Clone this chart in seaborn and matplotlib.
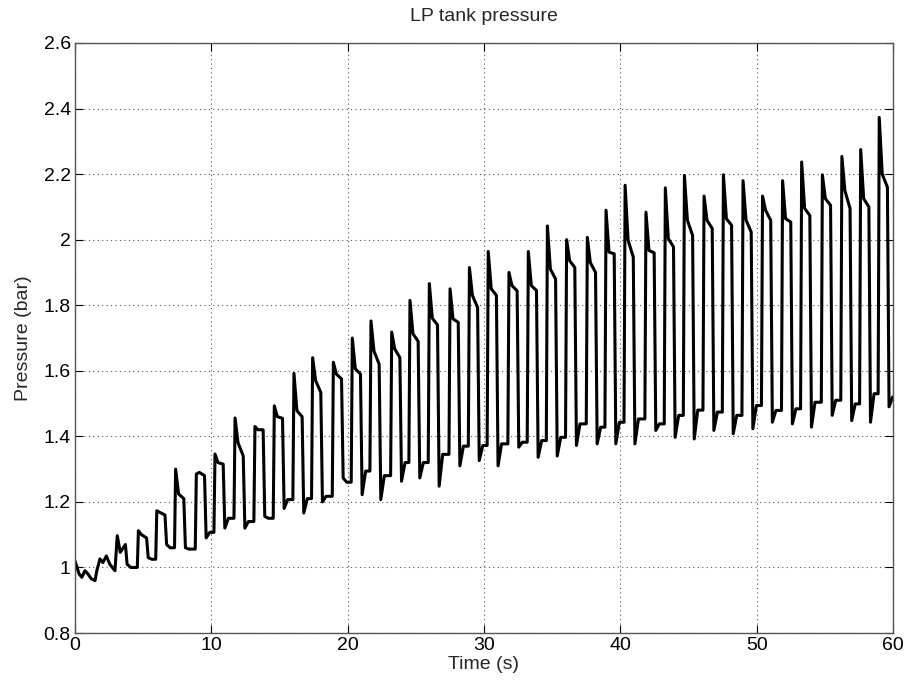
import numpy as np
import pandas as pd
import matplotlib
matplotlib.use("Agg")
import matplotlib.pyplot as plt
import seaborn as sns

# ---- data ----
# irregular start (before the regular cycling begins)
pre_t = [0.0, 0.15, 0.3, 0.5, 0.73, 0.95, 1.2, 1.47, 1.6, 1.83, 2.05, 2.3, 2.55, 2.93]
pre_v = [1.02, 1.0, 0.98, 0.97, 0.99, 0.98, 0.965, 0.96, 0.99, 1.026, 1.015, 1.035, 1.01, 0.99]

# one entry per pressure cycle
peak_t = [3.10, 4.65, 6.00, 7.38, 8.90, 10.27, 11.74, 13.20, 14.62, 16.06,
          17.43, 18.95, 20.34, 21.71, 23.23, 24.57, 25.99, 27.51, 28.93, 30.31,
          31.83, 33.25, 34.65, 36.06, 37.58, 38.95, 40.35, 41.88, 43.30, 44.70,
          46.14, 47.56, 49.00, 50.43, 51.90, 53.30, 54.82, 56.25, 57.63, 58.99]
peak_v = [1.097, 1.112, 1.173, 1.300, 1.285, 1.346, 1.456, 1.430, 1.493, 1.592,
          1.640, 1.626, 1.700, 1.752, 1.718, 1.815, 1.866, 1.850, 1.915, 1.964,
          1.900, 1.964, 2.042, 2.000, 2.007, 2.090, 2.166, 2.084, 2.158, 2.196,
          2.133, 2.198, 2.180, 2.133, 2.180, 2.237, 2.198, 2.254, 2.275, 2.373]
knee_v = [1.046, 1.100, 1.168, 1.224, 1.290, 1.320, 1.380, 1.420, 1.460, 1.478,
          1.570, 1.590, 1.606, 1.660, 1.667, 1.713, 1.760, 1.758, 1.830, 1.850,
          1.860, 1.860, 1.910, 1.936, 1.930, 1.962, 1.998, 1.967, 2.003, 2.059,
          2.059, 2.064, 2.060, 2.090, 2.064, 2.095, 2.125, 2.150, 2.125, 2.200]
high_end_v = [1.070, 1.090, 1.160, 1.210, 1.280, 1.315, 1.340, 1.420, 1.455, 1.460,
              1.534, 1.575, 1.590, 1.620, 1.640, 1.690, 1.740, 1.748, 1.793, 1.830,
              1.844, 1.845, 1.880, 1.915, 1.900, 1.957, 1.947, 1.960, 1.978, 2.013,
              2.034, 2.044, 2.023, 2.059, 2.054, 2.074, 2.105, 2.095, 2.100, 2.160]
bottom_v = [1.010, 1.030, 1.070, 1.060, 1.090, 1.120, 1.120, 1.156, 1.180, 1.166,
            1.200, 1.273, 1.222, 1.207, 1.263, 1.273, 1.248, 1.310, 1.326, 1.310,
            1.367, 1.336, 1.340, 1.372, 1.377, 1.377, 1.377, 1.418, 1.397, 1.392,
            1.418, 1.408, 1.423, 1.443, 1.438, 1.428, 1.464, 1.448, 1.443, 1.490]
low_end_v = [1.000, 1.025, 1.060, 1.056, 1.107, 1.150, 1.140, 1.150, 1.207, 1.210,
             1.217, 1.260, 1.294, 1.280, 1.320, 1.320, 1.345, 1.370, 1.372, 1.377,
             1.382, 1.387, 1.397, 1.438, 1.428, 1.443, 1.453, 1.438, 1.464, 1.480,
             1.474, 1.464, 1.494, 1.479, 1.484, 1.504, 1.510, 1.499, 1.530, 1.520]
t_end = 60.0

x_ticks = [0, 10, 20, 30, 40, 50, 60]
y_ticks = [0.8, 1.0, 1.2, 1.4, 1.6, 1.8, 2.0, 2.2, 2.4, 2.6]
y_tick_labels = ["0.8", "1", "1.2", "1.4", "1.6", "1.8", "2", "2.2", "2.4", "2.6"]

# ---- assemble the trace: vertices of each cycle ----
ts = list(pre_t)
vs = list(pre_v)
n = len(peak_t)
for i in range(n):
    tp = peak_t[i]
    ts += [tp, tp + 0.22, tp + 0.60, tp + 0.72, tp + 0.98]
    vs += [peak_v[i], knee_v[i], high_end_v[i], bottom_v[i], low_end_v[i]]
    t_next = peak_t[i + 1] - 0.08 if i + 1 < n else t_end
    ts.append(t_next)
    vs.append(low_end_v[i])

df = pd.DataFrame({"Time": ts, "Pressure": vs})

# ---- plot ----
sns.set_style("white")
plt.rcParams["font.family"] = ["Liberation Sans", "DejaVu Sans"]
plt.rcParams["font.size"] = 14

fig = plt.figure(figsize=(9.11, 6.86), dpi=100)
ax = fig.add_axes([75 / 911, 1 - 633 / 686, 818 / 911, 590 / 686])

sns.lineplot(data=df, x="Time", y="Pressure", ax=ax, color="black",
             linewidth=2.2, estimator=None, sort=False)

ax.set_xlim(0, 60)
ax.set_ylim(0.8, 2.6)
ax.set_xticks(x_ticks)
ax.set_xticklabels([str(v) for v in x_ticks])
ax.set_yticks(y_ticks)
ax.set_yticklabels(y_tick_labels)
ax.grid(True, linestyle=(0, (1, 3)), color="#555555", linewidth=0.8)
ax.tick_params(direction="in", length=6, width=0.8, colors="black",
               labelsize=14, pad=3, top=True, right=True, bottom=True, left=True,
               labeltop=False, labelright=False)
for s in ax.spines.values():
    s.set_color("#555555")
    s.set_linewidth(1.0)
    s.set_visible(True)

ax.set_xlabel("Time (s)", fontsize=14, labelpad=1)
ax.set_ylabel("Pressure (bar)", fontsize=14, labelpad=8)
ax.set_title("LP tank pressure", fontsize=14, pad=16)

fig.savefig("out.png", dpi=100, facecolor="white")
